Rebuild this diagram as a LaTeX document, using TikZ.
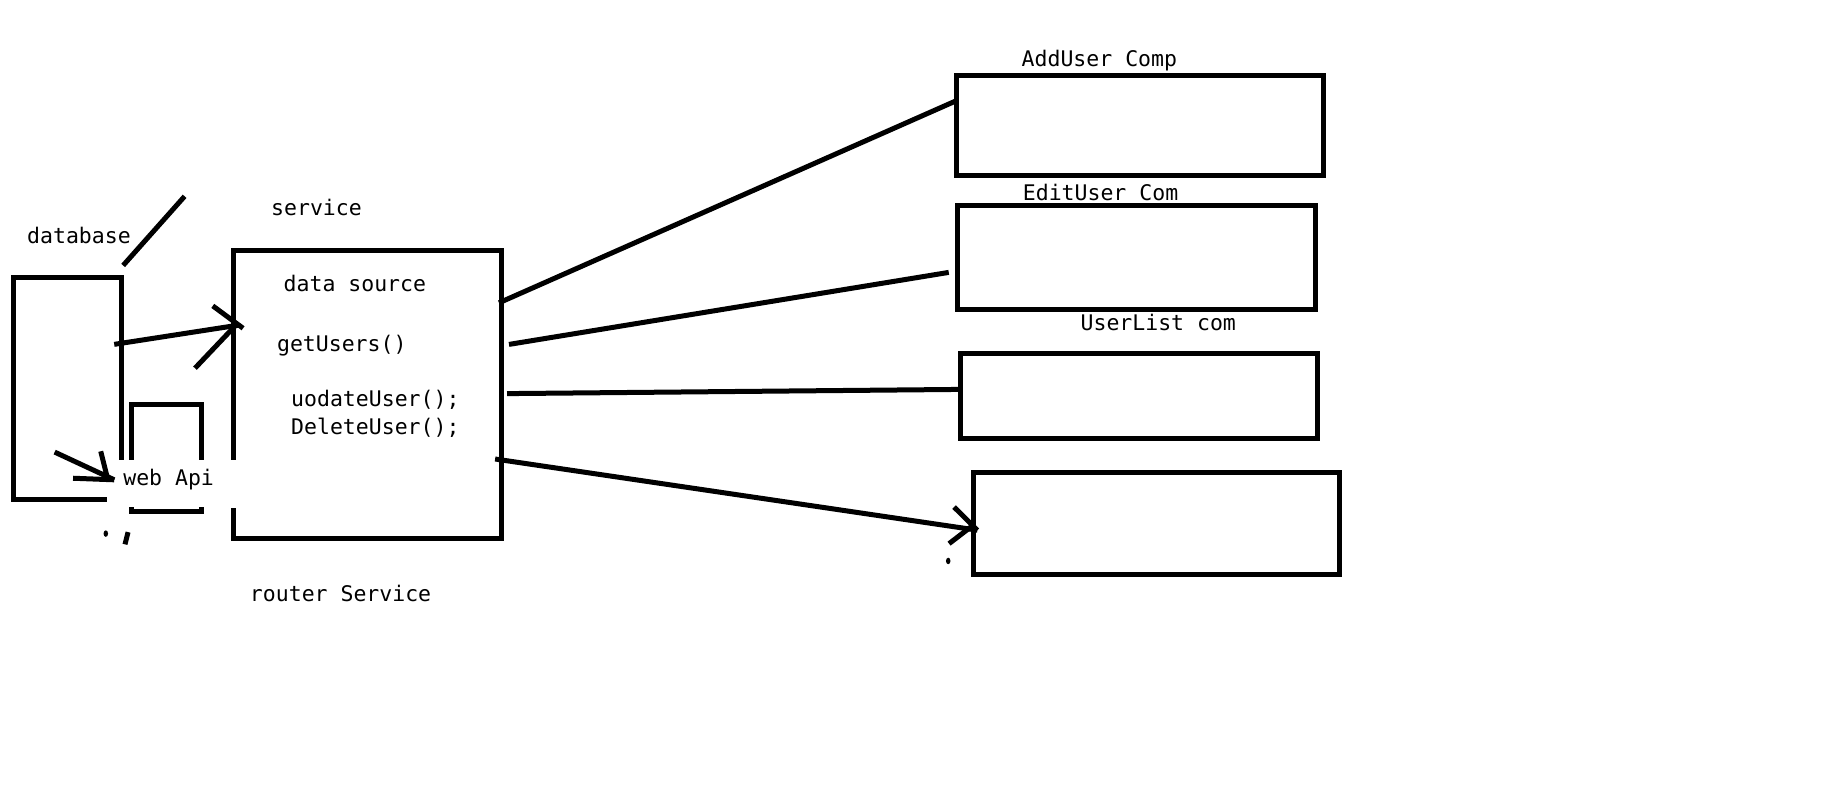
\documentclass[tikz,border=0pt]{standalone}
\usepackage{fontspec}
\setmonofont{DejaVu Sans Mono}
\usetikzlibrary{positioning, shapes.geometric}

\begin{document}
\begin{tikzpicture}[x=1.1782pt, y=-1.1782pt,
        pen/.style={line width=5pt},
        frame/.style={rectangle, inner sep=0pt, outer sep=0pt},
        comp/.style={frame, draw, line width=5pt},
        lbl/.style={inner sep=0pt, anchor=base west, font=\fontsize{21.5}{27}\selectfont\ttfamily},
        speck/.style={ellipse, fill, inner sep=0pt, minimum width=4.5pt, minimum height=6.5pt}
    ]
        \fill[white] (0,0) rectangle (1560,680);
        \useasboundingbox (0,0) rectangle (1560,680);

        % database, web api and service
        \node[frame, minimum width=108.5pt, minimum height=222.3pt] (db) at (57.45,329.45) {};
        \node[frame, minimum width=69.3pt, minimum height=107pt] (api) at (141.4,388.9) {};
        \node[frame, minimum width=267.7pt, minimum height=288.5pt] (svc) at (311.8,334.75) {};
        \draw[pen] ([yshift=39.6pt]db.south east) -- (db.north east) -- (db.north west) -- (db.south west) -- ([xshift=-15.4pt]db.south east);
        \draw[pen] ([yshift=52pt]api.south west) -- (api.north west) -- (api.north east) -- ([yshift=52pt]api.south east);
        \draw[pen] ([yshift=4.7pt]api.south west) -- (api.south west) -- (api.south east) -- ([yshift=4.7pt]api.south east);
        \draw[pen] ([yshift=78.9pt]svc.south west) -- (svc.north west) -- (svc.north east) -- (svc.south east) -- (svc.south west) -- ([yshift=30.9pt]svc.south west);

        \node[lbl] (dblabel) at (22.9,206.4) {database};
        \node[lbl] (svclabel) at (230,182.9) {service};
        \node[lbl] (dsrc) at (240.6,247.2) {data source};
        \node[lbl] (getusers) at (235,298.2) {getUsers()};
        \node[lbl] (upduser) at (247,345.2) {uodateUser();};
        \node[lbl] (deluser) at ([yshift=-27.3pt]upduser.base west) {DeleteUser();};
        \node[lbl] (apilabel) at (104.5,412.4) {web Api};
        \node[lbl] (router) at (212,510.4) {router Service};

        % components
        \node[comp, minimum width=367.5pt, minimum height=100pt] (addcomp) at (967.4,106.8) {};
        \node[comp, minimum width=358.5pt, minimum height=103.8pt] (editcomp) at (964.6,218.8) {};
        \node[comp, minimum width=357pt, minimum height=84.6pt] (listcomp) at (966.9,336.3) {};
        \node[comp, minimum width=366.3pt, minimum height=101.9pt] (lastcomp) at (981.6,444.3) {};
        \node[lbl] (addlabel) at (867,56.2) {AddUser Comp};
        \node[lbl] (editlabel) at (868,170.4) {EditUser Com};
        \node[lbl] (listlabel) at (917,280.1) {UserList com};

        % strokes
        \coordinate (slashlow) at (104.5,225.3);
        \coordinate (slashhigh) at (156.7,166.6);
        \draw[pen] (slashlow) -- (slashhigh);

        \coordinate (dbout) at ([xshift=-7.7pt, yshift=43.8pt]db.east);
        \coordinate (svcin) at ([xshift=4.5pt, yshift=69.2pt]svc.west);
        \draw[pen] (dbout) -- (svcin);
        \draw[pen] (180.6,259.6) -- (206.3,278.6);
        \draw[pen] (165.5,312.5) -- (199.2,277);

        \coordinate (userin) at (46.4,383.7);
        \coordinate (apiin) at ([xshift=-17.7pt, yshift=-21.6pt]api.west);
        \draw[pen] (userin) -- (apiin);
        \draw[pen] (62,405.9) -- (apiin);
        \draw[pen] (85.5,383) -- (91.4,406.6);

        \node[speck] (speckleft) at (89.8,452.9) {};
        \draw[pen] (108.7,451.6) -- (106.1,462);
        \node[speck] (speckright) at (804.8,476.1) {};

        % service to components
        \draw[pen] ([xshift=-2.2pt, yshift=91.6pt]svc.east) -- ([yshift=25pt]addcomp.west);
        \draw[pen] ([xshift=7.8pt, yshift=50pt]svc.east) -- ([xshift=-8.5pt, yshift=-14.6pt]editcomp.west);
        \draw[pen] ([xshift=5.8pt, yshift=0.8pt]svc.east) -- ([xshift=-2.7pt, yshift=6.8pt]listcomp.west);
        \coordinate (lastin) at ([xshift=4pt, yshift=-6.7pt]lastcomp.west);
        \draw[pen] ([xshift=-6.1pt, yshift=-64.6pt]svc.east) -- (lastin);
        \draw[pen] (809.8,430.4) -- (lastin);
        \draw[pen] (805.5,461.4) -- (826,445.7);
    \end{tikzpicture}
\end{document}
